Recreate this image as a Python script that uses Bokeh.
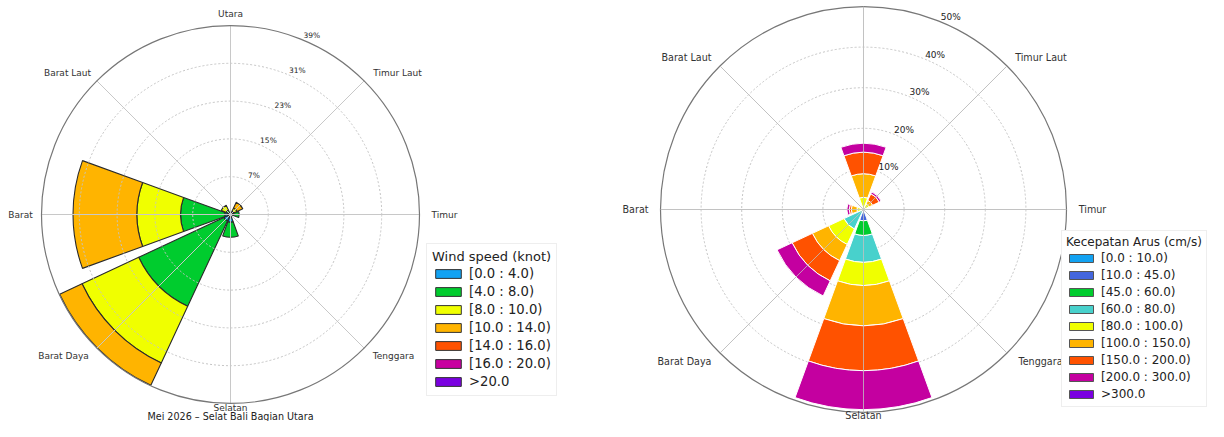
import math
from bokeh.plotting import figure
from bokeh.models import Range1d, ColumnDataSource, Legend, LegendItem
from bokeh.layouts import row
from bokeh.embed import file_html
from bokeh.resources import INLINE
from bokeh.core.properties import value

# ---------------- data ----------------
# direction order: N, NE, E, SE, S, SW, W, NW  (compass degrees)
compass_deg = [0, 45, 90, 135, 180, 225, 270, 315]
dir_labels = ["Utara", "Timur Laut", "Timur", "Tenggara", "Selatan", "Barat Daya", "Barat", "Barat Laut"]

# Wind (percent frequency per direction, per speed bin)
wind_bins = ["[0.0 : 4.0)", "[4.0 : 8.0)", "[8.0 : 10.0)", "[10.0 : 14.0)",
             "[14.0 : 16.0)", "[16.0 : 20.0)", ">20.0"]
wind_0_4 = [0, 0, 0.3, 0, 1.6, 1.5, 1.2, 0]
wind_4_8 = [0, 0.8, 1.5, 0, 3.1, 19.4, 9.1, 1.0]
wind_8_10 = [0, 0.7, 0, 0, 0, 12.9, 9.0, 1.1]
wind_10_14 = [0, 1.3, 0, 0, 0, 5.1, 13.2, 0]
wind_14_16 = [0, 0, 0, 0, 0, 0, 0, 0]
wind_16_20 = [0, 0, 0, 0, 0, 0, 0, 0]
wind_20_up = [0, 0, 0, 0, 0, 0, 0, 0]
wind_ticks = [7.8, 15.6, 23.4, 31.2, 39.0]
wind_tick_labels = ["7%", "15%", "23%", "31%", "39%"]

# Current (percent frequency per direction, per speed bin)
curr_bins = ["[0.0 : 10.0)", "[10.0 : 45.0)", "[45.0 : 60.0)", "[60.0 : 80.0)",
             "[80.0 : 100.0)", "[100.0 : 150.0)", "[150.0 : 200.0)",
             "[200.0 : 300.0)", ">300.0"]
curr_0_10 = [0, 0, 0, 0, 0, 0, 0, 0]
curr_10_45 = [0, 0, 0, 0, 2.8, 0, 0, 0]
curr_45_60 = [0, 0, 0, 0, 3.6, 0, 0, 0]
curr_60_80 = [0, 0, 0, 0, 6.6, 5.3, 0, 0]
curr_80_100 = [3.0, 1.5, 0, 0, 5.7, 4.2, 1.6, 0]
curr_100_150 = [5.8, 1.0, 0, 0, 9.9, 4.4, 1.4, 0]
curr_150_200 = [5.3, 1.8, 0, 0, 11.1, 5.5, 0.5, 0]
curr_200_300 = [2.2, 0.5, 0, 0, 9.6, 4.1, 0.6, 0]
curr_300_up = [0, 0, 0, 0, 0, 0, 0, 0]
curr_ticks = [10, 20, 30, 40, 50]
curr_tick_labels = ["10%", "20%", "30%", "40%", "50%"]

wind_colors = ["#12a2f2", "#00cc2e", "#f0ff00", "#ffb400", "#ff5200", "#c800a0", "#7a00e0"]
curr_colors = ["#12a2f2", "#4466dd", "#00cc2e", "#48d1cc", "#f0ff00", "#ffb400",
               "#ff5200", "#c400a0", "#7a00e0"]

FONT_NAME = "DejaVu Sans"
FONT = value(FONT_NAME)
H = 421
HALF = 20.0  # half opening of a sector in degrees
NAN = float("nan")


def rose_figure(x0, width, cx, cy, scale):
    p = figure(width=width, height=H,
               x_range=Range1d((x0 - cx) / scale, (x0 + width - cx) / scale),
               y_range=Range1d((cy - H) / scale, cy / scale),
               output_backend="svg", toolbar_location=None, min_border=0,
               x_axis_location=None, y_axis_location=None,
               outline_line_color=None, background_fill_color="white",
               border_fill_color="white")
    p.xgrid.visible = False
    p.ygrid.visible = False
    return p


def draw_bars(p, series, colors, edge, edge_w):
    cum = [0.0] * len(compass_deg)
    for vals, col in zip(series, colors):
        d = dict(inner=[], outer=[], start=[], end=[])
        for i, v in enumerate(vals):
            if v > 0:
                th = 90.0 - compass_deg[i]
                d["inner"].append(cum[i])
                d["outer"].append(cum[i] + v)
                d["start"].append(math.radians(th - HALF))
                d["end"].append(math.radians(th + HALF))
        cum = [c + v for c, v in zip(cum, vals)]
        p.annular_wedge(x=0, y=0, inner_radius="inner", outer_radius="outer",
                        start_angle="start", end_angle="end",
                        source=ColumnDataSource(d), fill_color=col,
                        line_color=edge, line_width=edge_w)


def legend_items(p, bins, colors, edge):
    items = []
    for b, c in zip(bins, colors):
        src = ColumnDataSource(dict(x=[NAN], y=[NAN]))
        r = p.quad(left="x", right="x", bottom="y", top="y", source=src,
                   fill_color=c, line_color=edge, line_width=1)
        items.append(LegendItem(label=b, renderers=[r]))
    return items


def spokes_and_rings(p, ticks, rmax, ring_color, spoke_color, outer_color):
    p.circle(x=[0] * (len(ticks) - 1), y=[0] * (len(ticks) - 1), radius=ticks[:-1],
             fill_color=None, line_color=ring_color, line_width=1, line_dash="2 2")
    xs = [[0, rmax * math.sin(math.radians(a))] for a in compass_deg]
    ys = [[0, rmax * math.cos(math.radians(a))] for a in compass_deg]
    p.multi_line(xs=xs, ys=ys, line_color=spoke_color, line_width=1)
    p.circle(x=[0], y=[0], radius=[rmax], fill_color=None, line_color=outer_color,
             line_width=1.2)


def tick_labels(p, ticks, labels, scale, dx_px, dy_px, size):
    a = math.radians(22.5)
    xs = [t * math.sin(a) + dx_px / scale for t in ticks]
    ys = [t * math.cos(a) - dy_px / scale for t in ticks]
    p.text(x=xs, y=ys, text=labels, text_font=FONT, text_font_size=size,
           text_align="center", text_baseline="middle", text_color="#222222")


def dir_text(p, offsets, names, scale, size):
    xs = [o[0] / scale for o in offsets]
    ys = [-o[1] / scale for o in offsets]
    p.text(x=xs, y=ys, text=names, text_font=FONT, text_font_size=size,
           text_align="center", text_baseline="middle", text_color="#333333")


# ---------------- left: wind rose ----------------
sL = 189.0 / 39.0
pL = rose_figure(0, 612, 230, 214, sL)
wind_series = [wind_0_4, wind_4_8, wind_8_10, wind_10_14, wind_14_16, wind_16_20, wind_20_up]
draw_bars(pL, wind_series, wind_colors, "#2a2a2a", 1.1)
spokes_and_rings(pL, wind_ticks, wind_ticks[-1], "#c4c4c4", "#c8c8c8", "#777777")
tick_labels(pL, wind_ticks, wind_tick_labels, sL, 9, -4, "7.5px")
left_offsets = [(0, -201), (167, -142), (214, 0), (163, 141), (0, 193),
                (-167, 141), (-210, 0), (-163, -142)]
dir_text(pL, left_offsets, dir_labels, sL, "9px")
pL.text(x=[0], y=[-(416 - 214) / sL], text=["Mei 2026 \u2013 Selat Bali Bagian Utara"],
        text_font=FONT, text_font_size="9.6px", text_align="center",
        text_baseline="middle", text_color="#222222")
legL = Legend(items=legend_items(pL, wind_bins, wind_colors, "#333333"),
              location=(426, 25), title="Wind speed (knot)",
              title_text_font=FONT_NAME, title_text_font_size="13px", title_text_font_style="normal",
              title_text_color="#222222", title_standoff=0,
              label_text_font=FONT_NAME, label_text_font_size="13.2px", label_text_color="#222222",
              glyph_width=32, glyph_height=11, label_height=18, spacing=0,
              padding=5, margin=0, label_standoff=5,
              border_line_color="#dddddd", border_line_width=1,
              background_fill_color="white", background_fill_alpha=1)
pL.add_layout(legL)

# ---------------- right: current rose ----------------
sR = 203.0 / 50.0
pR = rose_figure(612, 596, 863, 209, sR)
curr_series = [curr_0_10, curr_10_45, curr_45_60, curr_60_80, curr_80_100,
               curr_100_150, curr_150_200, curr_200_300, curr_300_up]
spokes_and_rings(pR, curr_ticks, curr_ticks[-1], "#c4c4c4", "#c8c8c8", "#777777")
draw_bars(pR, curr_series, curr_colors, "white", 1.0)
xs_sp = [[0, 50 * math.sin(math.radians(a))] for a in compass_deg]
ys_sp = [[0, 50 * math.cos(math.radians(a))] for a in compass_deg]
pR.multi_line(xs=xs_sp, ys=ys_sp, line_color="#c0c0c0", line_width=1, line_alpha=0.8)
tick_labels(pR, curr_ticks, curr_tick_labels, sR, 9.5, -4.5, "9px")
right_offsets = [(0, -214), (177.5, -152), (229, 0), (177, 152), (0, 206),
                 (-179, 152), (-228, 0), (-177, -152)]
dir_text(pR, right_offsets[1:], dir_labels[1:], sR, "9.6px")
legR = Legend(items=legend_items(pR, curr_bins, curr_colors, "#555555"),
              location=(449, 14), title="Kecepatan Arus (cm/s)",
              title_text_font=FONT_NAME, title_text_font_size="12px", title_text_font_style="normal",
              title_text_color="#222222", title_standoff=0,
              label_text_font=FONT_NAME, label_text_font_size="12px", label_text_color="#222222",
              glyph_width=30, glyph_height=10, label_height=17, spacing=0,
              padding=4, margin=0, label_standoff=5,
              border_line_color="#dddddd", border_line_width=1,
              background_fill_color="white", background_fill_alpha=1)
pR.add_layout(legR)

layout = row(pL, pR, spacing=0)
open("out.html", "w").write(file_html(layout, INLINE))
